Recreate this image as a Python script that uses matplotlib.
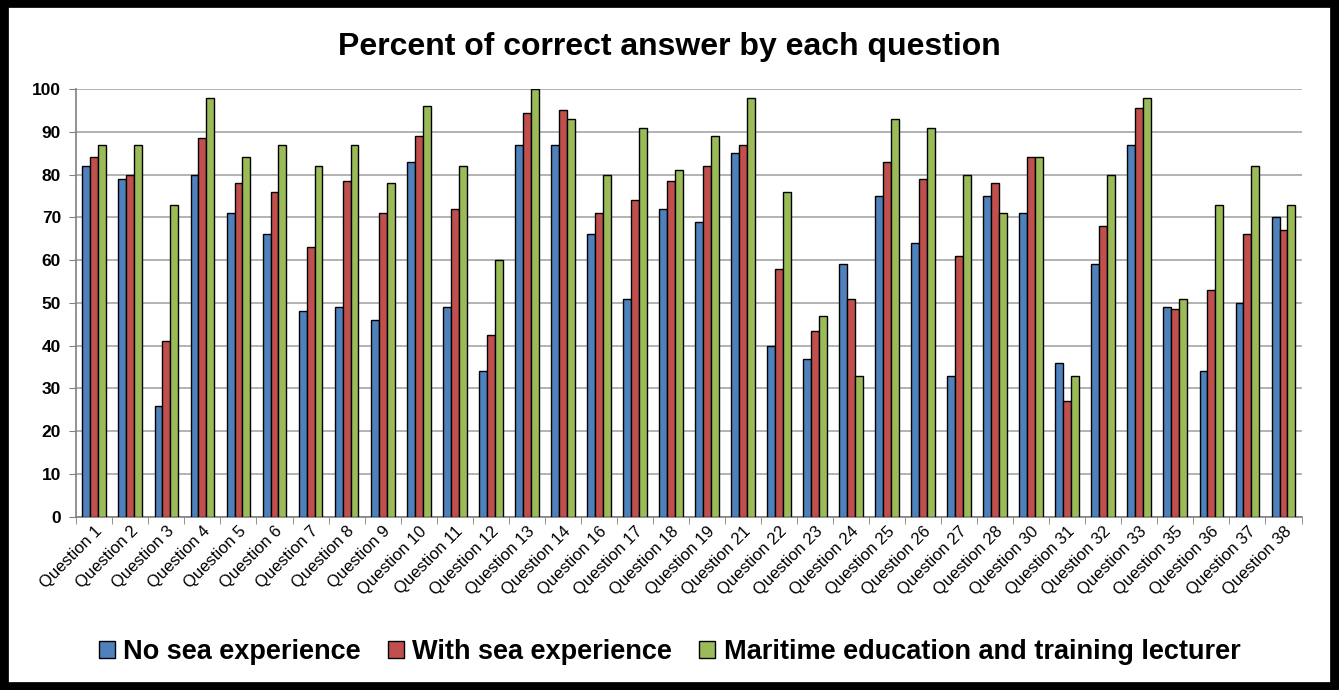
import matplotlib
matplotlib.use("Agg")
import matplotlib.pyplot as plt
from matplotlib.patches import Rectangle
import numpy as np

questions = ["Question 1", "Question 2", "Question 3", "Question 4", "Question 5",
             "Question 6", "Question 7", "Question 8", "Question 9", "Question 10",
             "Question 11", "Question 12", "Question 13", "Question 14", "Question 16",
             "Question 17", "Question 18", "Question 19", "Question 21", "Question 22",
             "Question 23", "Question 24", "Question 25", "Question 26", "Question 27",
             "Question 28", "Question 30", "Question 31", "Question 32", "Question 33",
             "Question 35", "Question 36", "Question 37", "Question 38"]

no_sea = [82, 79, 26, 80, 71, 66, 48, 49, 46, 83, 49, 34, 87, 87, 66, 51, 72, 69,
          85, 40, 37, 59, 75, 64, 33, 75, 71, 36, 59, 87, 49, 34, 50, 70]
with_sea = [84, 80, 41, 88.5, 78, 76, 63, 78.5, 71, 89, 72, 42.5, 94.5, 95, 71, 74,
            78.5, 82, 87, 58, 43.5, 51, 83, 79, 61, 78, 84, 27, 68, 95.5, 48.5, 53, 66, 67]
lecturer = [87, 87, 73, 98, 84, 87, 82, 87, 78, 96, 82, 60, 100, 93, 80, 91, 81, 89,
            98, 76, 47, 33, 93, 91, 80, 71, 84, 33, 80, 98, 51, 73, 82, 73]

series_names = ["No sea experience", "With sea experience",
                "Maritime education and training lecturer"]
colors = ["#4F81BD", "#C0504D", "#9BBB59"]

plt.rcParams['font.family'] = ['Liberation Sans', 'DejaVu Sans']

fig = plt.figure(figsize=(13.39, 6.9), dpi=100)
ax = fig.add_axes([0.057, 0.251, 0.915, 0.620])

x = np.arange(len(questions))
w = 0.22
for i, (vals, name, c) in enumerate(zip([no_sea, with_sea, lecturer], series_names, colors)):
    ax.bar(x + (i - 1) * w, vals, width=w, color=c, edgecolor="black",
           linewidth=1.0, label=name, zorder=3)

ax.set_xlim(-0.5, len(questions) - 0.5)
ax.set_ylim(0, 100)
ax.set_yticks(np.arange(0, 101, 10))
ax.set_yticklabels([str(v) for v in range(0, 101, 10)], fontsize=12.5, fontweight="bold")
ax.yaxis.grid(True, color="#A6A6A6", linewidth=1.2, zorder=0)
ax.set_axisbelow(True)

ax.set_xticks(x)
ax.set_xticklabels(questions, rotation=45, ha="right", rotation_mode="anchor",
                   fontsize=12)
ax.set_xticks(np.arange(-0.5, len(questions), 1), minor=True)
ax.tick_params(axis="x", which="major", length=0, pad=5)
ax.tick_params(axis="x", which="minor", length=5, color="#808080")
ax.tick_params(axis="y", length=5, color="#808080", pad=6)

for s in ["top", "right"]:
    ax.spines[s].set_visible(False)
for s in ["left", "bottom"]:
    ax.spines[s].set_color("#808080")
    ax.spines[s].set_linewidth(1.2)

fig.text(0.5, 0.932, "Percent of correct answer by each question", ha="center",
         va="center", fontsize=23, fontweight="bold")

leg = fig.legend(loc="center", bbox_to_anchor=(0.5, 0.055), ncol=3, frameon=False,
                 prop={"size": 19.5, "weight": "bold"}, handlelength=0.6,
                 handleheight=0.6, handletextpad=0.3, columnspacing=1.0)

fig.patches.append(Rectangle((0.003, 0.005), 0.994, 0.99, transform=fig.transFigure,
                             fill=False, edgecolor="black", linewidth=7))

fig.savefig("out.png", dpi=100)
